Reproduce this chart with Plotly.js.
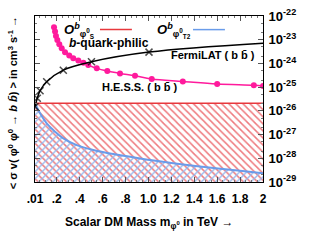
<!DOCTYPE html>
<html><head><meta charset="utf-8">
<script src="https://cdn.plot.ly/plotly-3.0.1.min.js"></script>
<style>html,body{margin:0;padding:0;background:#fff}#c{width:334px;height:250px}</style>
</head><body><div id="c"></div>
<script>
// FermiLAT (b bbar) limit
const fermiMass  = [0.01, 0.03, 0.054, 0.112, 0.257, 0.503, 1.005, 2.0];
const fermiSigma = [1.5e-26, 3.4e-26, 7.1e-26, 1.7e-25, 5.2e-25, 1.17e-24, 3.0e-24, 7.1e-24];
// H.E.S.S. (b bbar) limit
const hessMass  = [0.176, 0.185, 0.193, 0.205, 0.222, 0.243, 0.272, 0.309, 0.344, 0.388, 0.432, 0.475, 0.549, 0.641, 0.752, 0.883, 1.029, 1.30, 1.60, 1.92, 2.0];
const hessSigma = [3.35e-23, 2.2e-23, 1.45e-23, 9.8e-24, 6.5e-24, 4.4e-24, 2.95e-24, 2.15e-24, 1.66e-24, 1.32e-24, 1.07e-24, 8.5e-25, 6.2e-25, 4.8e-25, 3.8e-25, 3.0e-25, 2.2e-25, 1.74e-25, 1.35e-25, 1.2e-25, 1.12e-25];
// O^b_{phi0_S} (thermal relic line)
const sMass  = [0.01, 2.0];
const sSigma = [2.1e-26, 2.1e-26];
// O^b_{phi0_T2}
const tMass  = [0.01, 0.054, 0.112, 0.185, 0.257, 0.374, 0.519, 0.693, 0.839, 1.014, 1.217, 1.508, 1.80, 2.0];
const tSigma = [2.1e-26, 7.9e-27, 3.0e-27, 1.32e-27, 6.9e-28, 3.6e-28, 2.24e-28, 1.51e-28, 1.17e-28, 8.5e-29, 6.2e-29, 4.2e-29, 3.0e-29, 2.35e-29];
// floor of the shaded regions
const floorMass  = [0.01, 2.0];
const floorSigma = [1e-30, 1e-30];
// axis ticks
const xTickVals = [0.01, 0.2, 0.4, 0.6, 0.8, 1.0, 1.2, 1.4, 1.6, 1.8, 2.0];
const xTickText = ['.01', '.2', '.4', '.6', '.8', '1.0', '1.2', '1.4', '1.6', '1.8', '2'];
const yTickVals = [1e-29, 1e-28, 1e-27, 1e-26, 1e-25, 1e-24, 1e-23, 1e-22];
const yTickText = ['10<sup>-29</sup>', '10<sup>-28</sup>', '10<sup>-27</sup>', '10<sup>-26</sup>', '10<sup>-25</sup>', '10<sup>-24</sup>', '10<sup>-23</sup>', '10<sup>-22</sup>'];

const FONT = 'Liberation Sans, Arial, sans-serif';
const fermiMarkerSize = fermiMass.map((m, i) => i === fermiMass.length - 1 ? 0 : 7);

const traces = [
  {x: floorMass, y: floorSigma, mode: 'lines', line: {width: 0}, hoverinfo: 'skip', showlegend: false},
  {x: sMass, y: sSigma, mode: 'lines', line: {color: '#e8383d', width: 1.5}, fill: 'tonexty',
   fillcolor: 'rgba(0,0,0,0)',
   fillpattern: {shape: '\\', fgcolor: '#ee7a7e', bgcolor: 'rgba(0,0,0,0)', size: 5, solidity: 0.3}, showlegend: false},
  {x: floorMass, y: floorSigma, mode: 'lines', line: {width: 0}, hoverinfo: 'skip', showlegend: false},
  {x: tMass, y: tSigma, mode: 'lines', line: {color: '#6a9cea', width: 2, shape: 'spline'}, fill: 'tonexty',
   fillcolor: 'rgba(0,0,0,0)',
   fillpattern: {shape: '/', fgcolor: '#95b8ee', bgcolor: 'rgba(0,0,0,0)', size: 5, solidity: 0.28}, showlegend: false},
  {x: hessMass, y: hessSigma, mode: 'lines+markers', line: {color: '#ff1a9c', width: 1.5, shape: 'spline'},
   marker: {color: '#ff1a9c', size: 6, symbol: 'circle'}, showlegend: false},
  {x: fermiMass, y: fermiSigma, mode: 'lines+markers', line: {color: '#000', width: 1.5, shape: 'spline'},
   marker: {symbol: 'x-thin-open', size: fermiMarkerSize, line: {color: '#000', width: 1.5}}, showlegend: false}
];

const layout = {
  width: 334, height: 250,
  margin: {l: 35, r: 71, t: 16, b: 68},
  paper_bgcolor: '#fff', plot_bgcolor: '#fff',
  showlegend: false,
  font: {family: FONT, color: '#000'},
  xaxis: {
    range: [0.01, 2.0], tickvals: xTickVals, ticktext: xTickText,
    ticks: 'inside', ticklen: 5, tickcolor: '#555', mirror: 'ticks', ticklabelstandoff: 6,
    showline: true, linecolor: '#000', linewidth: 1, showgrid: false, zeroline: false,
    tickfont: {family: FONT, size: 12, weight: 'bold'},
    minor: {ticks: 'inside', ticklen: 2, tickcolor: '#777', dtick: 0.05}
  },
  yaxis: {
    type: 'log', range: [-29, -22], side: 'right', tickvals: yTickVals, ticktext: yTickText,
    ticks: 'inside', ticklen: 5, tickcolor: '#555', mirror: 'ticks', ticklabelstandoff: 2,
    showline: true, linecolor: '#000', linewidth: 1, showgrid: false, zeroline: false,
    tickfont: {family: FONT, size: 13, weight: 'bold'},
    minor: {ticks: 'inside', ticklen: 2, tickcolor: '#777'}
  },
  shapes: [
    {type: 'line', xref: 'paper', yref: 'paper', x0: 0.285, x1: 0.425, y0: 0.918, y1: 0.918, line: {color: '#e8383d', width: 1.5}},
    {type: 'line', xref: 'paper', yref: 'paper', x0: 0.693, x1: 0.833, y0: 0.918, y1: 0.918, line: {color: '#6a9cea', width: 1.5}}
  ],
  annotations: [
    {xref: 'paper', yref: 'paper', x: 0.12, y: 0.91, xanchor: 'left', yanchor: 'middle', showarrow: false,
     text: '<b><i>O</i><sup><i>b</i></sup><sub>φ<sup>0</sup><sub>S</sub></sub></b>', font: {size: 13}},
    {xref: 'paper', yref: 'paper', x: 0.525, y: 0.91, xanchor: 'left', yanchor: 'middle', showarrow: false,
     text: '<b><i>O</i><sup><i>b</i></sup><sub>φ<sup>0</sup><sub>T2</sub></sub></b>', font: {size: 13}},
    {xref: 'paper', yref: 'paper', x: 0.14, y: 0.835, xanchor: 'left', yanchor: 'middle', showarrow: false,
     text: '<b><i>b</i>-quark-philic</b>', font: {size: 12}},
    {xref: 'paper', yref: 'paper', x: 0.78, y: 0.765, xanchor: 'center', yanchor: 'middle', showarrow: false,
     text: '<b>FermiLAT ( b b̄ )</b>', font: {size: 11}},
    {xref: 'paper', yref: 'paper', x: 0.46, y: 0.575, xanchor: 'center', yanchor: 'middle', showarrow: false,
     text: '<b>H.E.S.S. ( b b̄ )</b>', font: {size: 11}},
    {xref: 'paper', yref: 'paper', x: -0.097, y: 0.48, xanchor: 'center', yanchor: 'middle', showarrow: false, textangle: -90,
     text: '<b>&lt; σ v( φ<sup>0</sup> φ<sup>0</sup> → <i>b b̄</i>) &gt; in cm<sup>3</sup> s<sup>-1</sup> →</b>', font: {size: 11}},
    {xref: 'paper', yref: 'paper', x: 0.5, y: -0.245, xanchor: 'center', yanchor: 'middle', showarrow: false,
     text: '<b>Scalar DM Mass m<sub>φ<sup>0</sup></sub> in TeV →</b>', font: {size: 12}}
  ]
};

Plotly.newPlot('c', traces, layout, {displayModeBar: false, staticPlot: true});
</script></body></html>
